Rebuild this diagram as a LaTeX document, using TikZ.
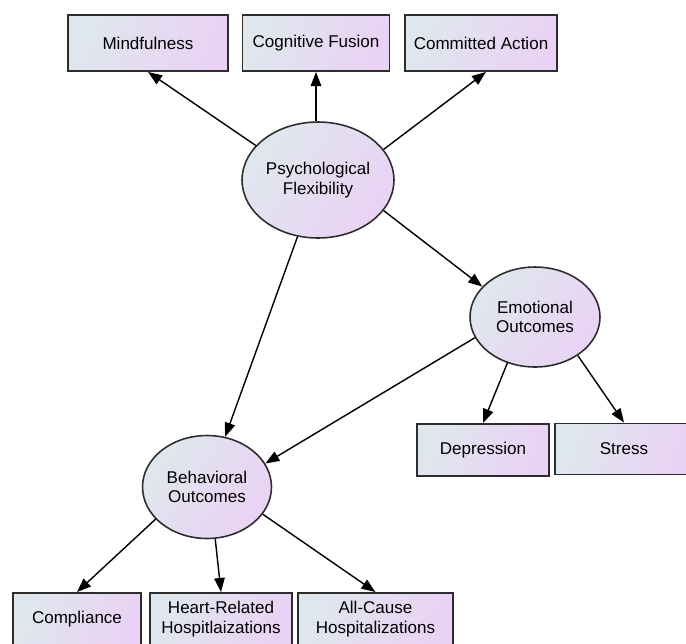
\documentclass[tikz,border=0pt]{standalone}
\usepackage{fontspec}
\setmainfont{Liberation Sans}
\usetikzlibrary{positioning, arrows.meta, shapes}
\definecolor{fillleft}{RGB}{223,231,238}
\definecolor{fillright}{RGB}{234,210,244}
\definecolor{edgegray}{RGB}{45,45,45}

\begin{document}
\begin{tikzpicture}[x=0.02cm, y=-0.02cm, every node/.style={font=\fontsize{9.7}{11.2}\selectfont}]
  \tikzstyle{item} = [rectangle, draw=edgegray, line width=1.1pt, left color=fillleft,
    right color=fillright, shading angle=70, minimum height=1.12cm, inner sep=0pt, align=center]
  \tikzstyle{factor} = [ellipse, draw=edgegray, line width=0.9pt, left color=fillleft,
    right color=fillright, shading angle=55, inner sep=0pt, align=center]
  \tikzstyle{link} = [draw=black, line width=0.8pt, -{Triangle[length=8pt, width=6pt]}]

  \clip (0,0) rectangle (686,643);

  % latent factors
  \node[factor, minimum width=3.04cm, minimum height=2.32cm] (flex) at (318,180) {Psychological\\Flexibility};
  \node[factor, minimum width=2.6cm, minimum height=2cm] (emo) at (535,317) {Emotional\\Outcomes};
  \node[factor, minimum width=2.58cm, minimum height=2.06cm] (behav) at (207,487) {Behavioral\\Outcomes};

  % indicators
  \foreach \name/\x/\w/\txt in {mind/148/3.2/Mindfulness, fusion/316/2.94/Cognitive Fusion,
      action/481/3.04/Committed Action}
    \node[item, minimum width=\w cm] (\name) at (\x,43) {\txt};

  \node[item, minimum width=2.64cm, minimum height=1.04cm] (dep) at (483,450) {Depression};
  \node[item, minimum width=2.76cm, minimum height=1.02cm] (stress) at (624,449) {Stress};

  \foreach \name/\x/\w/\txt in {comply/77/2.56/Compliance, heart/221/2.84/{Heart-Related\\Hospitlaizations},
      allcause/375.5/3.1/{All-Cause\\Hospitalizations}}
    \node[item, minimum width=\w cm, minimum height=1.04cm] (\name) at (\x,619) {\txt};

  % paths
  \draw[link] (flex.151) -- (mind.south);
  \draw[link] (fusion.south |- flex.north) -- (fusion.south);
  \draw[link] (flex.25.5) -- ([xshift=0.1cm]action.south);
  \draw[link] (flex.-25) -- (emo.150);
  \draw[link] (flex) -- (behav);
  \draw[link] (emo.199) -- (behav.22);
  \draw[link] (emo.-121) -- (dep.north);
  \draw[link] (emo.-42) -- (stress.north);
  \draw[link] (behav.-148) -- (comply.north);
  \draw[link] (behav.-81) -- (heart.north);
  \draw[link] (behav.-26) -- (allcause.north);
\end{tikzpicture}
\end{document}
